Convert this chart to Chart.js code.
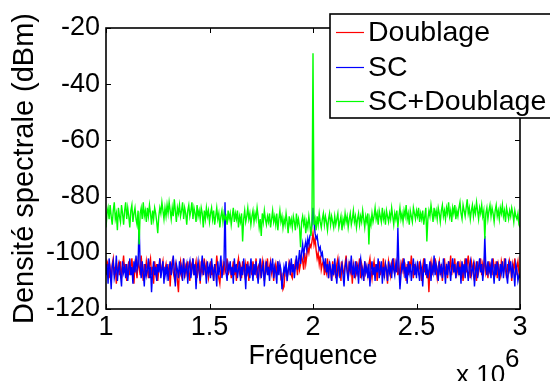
<!DOCTYPE html>
<html><head><meta charset="utf-8">
<script src="https://cdn.jsdelivr.net/npm/chart.js@4/dist/chart.umd.min.js"></script>
<style>html,body{margin:0;padding:0;background:#fff;overflow:hidden}#wrap{width:550px;height:381px;position:relative}</style>
</head><body><div id="wrap"><canvas id="c" width="550" height="381"></canvas></div>
<script>
// Frequency in units of 10^6 (MHz)
const freqMHz = [
1.000,1.005,1.010,1.015,1.020,1.025,1.030,1.035,1.040,1.045,1.050,1.055,1.060,1.065,1.070,1.075,1.080,1.085,1.090,1.095,
1.100,1.105,1.110,1.115,1.120,1.125,1.130,1.135,1.140,1.145,1.150,1.155,1.160,1.165,1.170,1.175,1.180,1.185,1.190,1.195,
1.200,1.205,1.210,1.215,1.220,1.225,1.230,1.235,1.240,1.245,1.250,1.255,1.260,1.265,1.270,1.275,1.280,1.285,1.290,1.295,
1.300,1.305,1.310,1.315,1.320,1.325,1.330,1.335,1.340,1.345,1.350,1.355,1.360,1.365,1.370,1.375,1.380,1.385,1.390,1.395,
1.400,1.405,1.410,1.415,1.420,1.425,1.430,1.435,1.440,1.445,1.450,1.455,1.460,1.465,1.470,1.475,1.480,1.485,1.490,1.495,
1.500,1.505,1.510,1.515,1.520,1.525,1.530,1.535,1.540,1.545,1.550,1.555,1.560,1.565,1.570,1.575,1.580,1.585,1.590,1.595,
1.600,1.605,1.610,1.615,1.620,1.625,1.630,1.635,1.640,1.645,1.650,1.655,1.660,1.665,1.670,1.675,1.680,1.685,1.690,1.695,
1.700,1.705,1.710,1.715,1.720,1.725,1.730,1.735,1.740,1.745,1.750,1.755,1.760,1.765,1.770,1.775,1.780,1.785,1.790,1.795,
1.800,1.805,1.810,1.815,1.820,1.825,1.830,1.835,1.840,1.845,1.850,1.855,1.860,1.865,1.870,1.875,1.880,1.885,1.890,1.895,
1.900,1.905,1.910,1.915,1.920,1.925,1.930,1.935,1.940,1.945,1.950,1.955,1.960,1.965,1.970,1.975,1.980,1.985,1.990,1.995,
2.000,2.005,2.010,2.015,2.020,2.025,2.030,2.035,2.040,2.045,2.050,2.055,2.060,2.065,2.070,2.075,2.080,2.085,2.090,2.095,
2.100,2.105,2.110,2.115,2.120,2.125,2.130,2.135,2.140,2.145,2.150,2.155,2.160,2.165,2.170,2.175,2.180,2.185,2.190,2.195,
2.200,2.205,2.210,2.215,2.220,2.225,2.230,2.235,2.240,2.245,2.250,2.255,2.260,2.265,2.270,2.275,2.280,2.285,2.290,2.295,
2.300,2.305,2.310,2.315,2.320,2.325,2.330,2.335,2.340,2.345,2.350,2.355,2.360,2.365,2.370,2.375,2.380,2.385,2.390,2.395,
2.400,2.405,2.410,2.415,2.420,2.425,2.430,2.435,2.440,2.445,2.450,2.455,2.460,2.465,2.470,2.475,2.480,2.485,2.490,2.495,
2.500,2.505,2.510,2.515,2.520,2.525,2.530,2.535,2.540,2.545,2.550,2.555,2.560,2.565,2.570,2.575,2.580,2.585,2.590,2.595,
2.600,2.605,2.610,2.615,2.620,2.625,2.630,2.635,2.640,2.645,2.650,2.655,2.660,2.665,2.670,2.675,2.680,2.685,2.690,2.695,
2.700,2.705,2.710,2.715,2.720,2.725,2.730,2.735,2.740,2.745,2.750,2.755,2.760,2.765,2.770,2.775,2.780,2.785,2.790,2.795,
2.800,2.805,2.810,2.815,2.820,2.825,2.830,2.835,2.840,2.845,2.850,2.855,2.860,2.865,2.870,2.875,2.880,2.885,2.890,2.895,
2.900,2.905,2.910,2.915,2.920,2.925,2.930,2.935,2.940,2.945,2.950,2.955,2.960,2.965,2.970,2.975,2.980,2.985,2.990,2.995,
3.000];

const doublage = [
-107,-103,-104,-109,-106,-110,-104,-102,-108,-105,-111,-106,-104,-108,-103,-109,-105,-101,-107,-104,
-110,-106,-103,-108,-105,-102,-107,-111,-104,-106,-109,-103,-105,-108,-101,-106,-110,-104,-107,-103,
-106,-109,-104,-102,-108,-105,-111,-103,-107,-104,-110,-106,-102,-108,-105,-103,-109,-106,-104,-107,
-108,-104,-112,-105,-103,-107,-109,-104,-106,-110,-114,-105,-103,-108,-106,-102,-109,-105,-107,-103,
-107,-110,-104,-106,-102,-108,-105,-103,-109,-106,-104,-111,-103,-107,-105,-102,-108,-104,-106,-109,
-106,-103,-108,-105,-110,-104,-107,-101,-105,-109,-111,-106,-104,-108,-103,-107,-106,-102,-108,-105,
-104,-109,-106,-103,-108,-105,-110,-104,-102,-107,-105,-109,-103,-106,-108,-104,-107,-103,-110,-105,
-105,-108,-103,-106,-107,-102,-109,-105,-104,-108,-106,-103,-107,-110,-104,-106,-102,-108,-105,-103,
-107,-104,-110,-106,-104,-108,-103,-106,-105,-109,-108,-113,-112,-106,-105,-109,-107,-103,-104,-108,
-109,-105,-106,-103,-104,-108,-102,-106,-104,-101,-103,-106,-100,-104,-101,-98,-100,-97,-98,-96,
-93,
-97,-95,-99,-102,-100,-104,-101,-106,-104,-103,-108,-105,-107,-102,-109,-104,-106,-110,-103,-107,
-105,-109,-104,-102,-107,-105,-110,-103,-106,-108,-104,-101,-106,-109,-103,-107,-105,-111,-104,-106,
-108,-103,-107,-105,-102,-109,-104,-106,-110,-103,-107,-105,-108,-104,-102,-106,-109,-105,-103,-107,
-104,-110,-106,-103,-108,-105,-107,-102,-109,-104,-106,-111,-103,-105,-108,-104,-106,-102,-107,-105,
-103,-108,-105,-109,-104,-106,-102,-107,-105,-110,-104,-108,-103,-106,-101,-105,-109,-104,-107,-106,
-104,-108,-103,-106,-110,-105,-102,-107,-104,-109,-106,-114,-105,-103,-108,-104,-107,-102,-106,-109,
-105,-103,-108,-104,-110,-106,-102,-107,-105,-109,-103,-106,-101,-108,-104,-106,-102,-109,-105,-107,
-103,-108,-104,-106,-110,-105,-102,-107,-104,-101,-106,-109,-103,-105,-108,-104,-106,-110,-103,-107,
-105,-102,-108,-104,-106,-101,-107,-105,-109,-103,-106,-104,-108,-102,-105,-107,-103,-109,-104,-106,
-108,-103,-105,-107,-102,-106,-109,-104,-107,-103,-105,-110,-104,-106,-102,-108,-105,-103,-107,-109];

const sc = [
-108,-104,-111,-102,-106,-113,-105,-103,-109,-107,-101,-110,-106,-104,-108,-112,-103,-107,-105,-109,
-104,-110,-106,-102,-108,-105,-111,-103,-107,-101,-106,-104,-89,-105,-109,-103,-107,-112,-104,-108,
-106,-102,-109,-105,-114,-107,-103,-108,-105,-110,-104,-107,-102,-109,-106,-103,-111,-105,-108,-104,
-110,-106,-103,-108,-105,-101,-107,-112,-104,-106,-109,-103,-107,-105,-110,-102,-108,-106,-104,-111,
-105,-103,-109,-106,-102,-108,-104,-113,-106,-103,-107,-110,-105,-101,-108,-104,-106,-111,-103,-107,
-105,-109,-102,-106,-110,-104,-107,-112,-103,-108,-105,-101,-109,-106,-104,-82,-107,-110,-104,-106,
-103,-108,-105,-111,-102,-107,-104,-109,-106,-103,-110,-105,-108,-102,-106,-113,-104,-107,-105,-109,
-102,-106,-110,-104,-108,-103,-107,-111,-105,-102,-109,-106,-104,-112,-107,-103,-108,-105,-110,-104,
-106,-102,-109,-105,-107,-111,-103,-108,-104,-106,-113,-109,-105,-107,-103,-110,-106,-104,-108,-102,
-107,-104,-109,-105,-101,-106,-103,-99,-104,-100,-97,-101,-98,-96,-99,-95,-97,-94,-93,-90,
-84,
-89,-93,-95,-94,-97,-99,-98,-101,-100,-103,-105,-102,-107,-104,-109,-103,-106,-110,-104,-108,
-102,-107,-111,-105,-103,-109,-106,-104,-108,-112,-105,-103,-107,-110,-104,-106,-101,-108,-105,-109,
-103,-107,-105,-111,-104,-102,-108,-106,-110,-103,-107,-105,-109,-104,-112,-106,-103,-108,-105,-110,
-104,-107,-102,-109,-106,-103,-111,-105,-108,-104,-106,-110,-103,-107,-105,-109,-102,-106,-108,-104,
-107,-91,-105,-113,-108,-104,-106,-102,-109,-105,-111,-103,-107,-104,-110,-106,-102,-108,-105,-109,
-103,-107,-110,-104,-106,-112,-105,-102,-108,-104,-109,-106,-103,-110,-105,-107,-101,-108,-104,-106,
-110,-103,-107,-105,-109,-102,-106,-111,-104,-108,-103,-106,-110,-105,-102,-107,-104,-109,-106,-103,
-108,-105,-111,-103,-107,-104,-109,-102,-106,-110,-105,-103,-108,-106,-104,-112,-107,-103,-109,-105,
-102,-107,-104,-110,-106,-94,-105,-108,-103,-107,-105,-109,-102,-106,-111,-104,-108,-103,-106,-110,
-104,-107,-103,-109,-105,-102,-108,-111,-104,-106,-103,-109,-105,-107,-112,-104,-106,-110,-108,-109];

const scDoublage = [
-91,-86,-84,-88,-83,-87,-90,-85,-82,-88,-86,-92,-84,-87,-89,-83,-86,-90,-85,-82,
-88,-84,-87,-91,-85,-83,-89,-86,-84,-88,-90,-85,-97,-86,-84,-88,-82,-87,-85,-89,
-84,-87,-83,-86,-90,-85,-88,-84,-86,-89,-93,-87,-84,-86,-82,-85,-88,-84,-87,-83,
-86,-82,-85,-88,-84,-87,-81,-85,-89,-84,-86,-83,-87,-85,-82,-88,-84,-86,-90,-85,
-83,-87,-85,-82,-88,-84,-86,-89,-83,-87,-85,-88,-84,-86,-91,-85,-88,-84,-87,-85,
-89,-86,-84,-88,-85,-90,-87,-84,-88,-86,-91,-87,-85,-89,-86,-88,-87,-90,-85,-88,
-86,-90,-87,-84,-89,-86,-88,-85,-91,-87,-89,-86,-96,-88,-85,-89,-87,-84,-88,-86,
-90,-87,-85,-89,-86,-88,-84,-87,-91,-88,-94,-86,-89,-85,-88,-90,-87,-89,-86,-91,
-88,-85,-89,-87,-90,-86,-92,-88,-85,-89,-87,-91,-88,-90,-86,-89,-93,-87,-90,-88,
-91,-87,-89,-92,-86,-90,-88,-91,-98,-89,-87,-90,-88,-93,-89,-91,-87,-90,-94,-89,
-29,
-90,-88,-92,-87,-90,-86,-89,-91,-88,-86,-90,-87,-89,-92,-88,-86,-90,-87,-89,-91,
-87,-90,-88,-86,-91,-89,-87,-92,-88,-90,-86,-89,-87,-91,-88,-86,-90,-88,-85,-89,
-87,-91,-88,-86,-90,-87,-89,-85,-88,-91,-87,-89,-86,-97,-88,-90,-86,-89,-87,-84,
-88,-86,-90,-85,-87,-89,-84,-88,-86,-90,-85,-87,-89,-86,-88,-84,-87,-90,-86,-88,
-85,-91,-87,-84,-88,-86,-89,-85,-87,-83,-88,-86,-90,-85,-87,-89,-84,-86,-88,-85,
-87,-84,-89,-86,-88,-85,-90,-87,-84,-96,-88,-85,-87,-83,-86,-89,-84,-87,-85,-88,
-84,-86,-89,-85,-83,-87,-85,-88,-84,-86,-82,-87,-85,-89,-84,-86,-83,-88,-85,-87,
-84,-82,-86,-88,-83,-85,-87,-84,-81,-86,-84,-88,-85,-83,-87,-84,-86,-82,-85,-88,
-84,-86,-83,-87,-85,-95,-86,-84,-88,-85,-83,-87,-84,-86,-89,-85,-83,-87,-85,-88,
-84,-86,-83,-87,-85,-89,-84,-86,-88,-85,-87,-84,-86,-89,-85,-87,-88,-86,-90,-91];

const seriesNames = ['Doublage', 'SC', 'SC+Doublage'];
const seriesColors = ['#ff0000', '#0000ff', '#00ff00'];
const xTicks = [1, 1.5, 2, 2.5, 3];
const yTicks = [-120, -100, -80, -60, -40, -20];
const xTitle = 'Fréquence';
const yTitle = 'Densité spectrale (dBm)';
const xMultiplier = ['x 10', '6'];

const FONT = '"Liberation Sans", Arial, Helvetica, sans-serif';

function pts(vals) { return freqMHz.map((f, i) => ({x: f, y: vals[i]})); }

const decor = {
  id: 'decor',
  afterDatasetsDraw(chart) {
    const {ctx, chartArea: a, scales: {x, y}} = chart;
    ctx.save();
    ctx.strokeStyle = '#000';
    ctx.lineWidth = 1;
    ctx.beginPath();
    xTicks.forEach(v => {
      const p = Math.round(x.getPixelForValue(v)) + 0.5;
      ctx.moveTo(p, a.bottom); ctx.lineTo(p, a.bottom - 5);
      ctx.moveTo(p, a.top); ctx.lineTo(p, a.top + 5);
    });
    yTicks.forEach(v => {
      const p = Math.round(y.getPixelForValue(v)) + 0.5;
      ctx.moveTo(a.left, p); ctx.lineTo(a.left + 5, p);
      ctx.moveTo(a.right, p); ctx.lineTo(a.right - 5, p);
    });
    ctx.stroke();
    ctx.lineWidth = 1.6;
    ctx.strokeRect(a.left, a.top, a.right - a.left, a.bottom - a.top);
    ctx.restore();
  },
  afterDraw(chart) {
    const ctx = chart.ctx;
    ctx.save();
    ctx.fillStyle = '#fff';
    ctx.fillRect(330, 14, 224, 104);
    ctx.strokeStyle = '#000';
    ctx.lineWidth = 1.6;
    ctx.strokeRect(330, 14, 224, 104);
    const rows = [32, 67, 101];
    ctx.font = '28.5px ' + FONT;
    ctx.textBaseline = 'middle';
    ctx.textAlign = 'left';
    seriesNames.forEach((n, i) => {
      ctx.strokeStyle = seriesColors[i];
      ctx.lineWidth = 1.2;
      ctx.beginPath();
      ctx.moveTo(336, rows[i] + 0.5); ctx.lineTo(364, rows[i] + 0.5);
      ctx.stroke();
      ctx.fillStyle = '#000';
      ctx.fillText(n, 368, rows[i] + 1);
    });
    ctx.textBaseline = 'alphabetic';
    ctx.font = '26px ' + FONT;
    ctx.fillText(xMultiplier[0], 456, 383);
    ctx.fillText(xMultiplier[1], 505, 367);
    ctx.restore();
  }
};

new Chart(document.getElementById('c'), {
  type: 'line',
  data: {
    datasets: [
      {label: seriesNames[0], data: pts(doublage), borderColor: seriesColors[0], borderWidth: 1.4, pointRadius: 0, order: 3},
      {label: seriesNames[1], data: pts(sc), borderColor: seriesColors[1], borderWidth: 1.4, pointRadius: 0, order: 2},
      {label: seriesNames[2], data: pts(scDoublage), borderColor: seriesColors[2], borderWidth: 1.4, pointRadius: 0, order: 1}
    ]
  },
  options: {
    responsive: false,
    animation: false,
    events: [],
    layout: {padding: {top: 28, right: 30, left: 0, bottom: 0}},
    plugins: {legend: {display: false}, tooltip: {enabled: false}},
    elements: {line: {tension: 0}},
    scales: {
      x: {
        type: 'linear', min: 1, max: 3,
        afterBuildTicks: s => { s.ticks = xTicks.map(v => ({value: v})); },
        afterFit: s => { s.height = 72; },
        grid: {display: false, drawTicks: false},
        border: {display: false},
        ticks: {font: {family: FONT, size: 27}, color: '#000', padding: 2, maxRotation: 0, autoSkip: false,
                callback: v => String(v)},
        title: {display: true, text: xTitle, font: {family: FONT, size: 27}, color: '#000', padding: {top: 0, bottom: 8}}
      },
      y: {
        type: 'linear', min: -120, max: -20,
        afterBuildTicks: s => { s.ticks = yTicks.map(v => ({value: v})); },
        afterFit: s => { s.width = 106; },
        grid: {display: false, drawTicks: false},
        border: {display: false},
        ticks: {font: {family: FONT, size: 27}, color: '#000', padding: 6, autoSkip: false,
                callback: v => String(v)},
        title: {display: true, text: yTitle, font: {family: FONT, size: 29}, color: '#000', padding: {top: 8, bottom: 0}}
      }
    }
  },
  plugins: [decor]
});
</script>
</body></html>
